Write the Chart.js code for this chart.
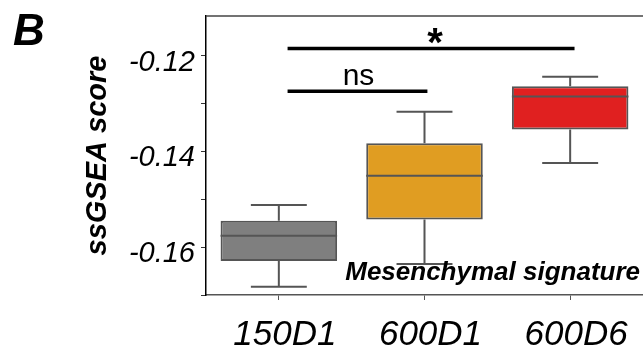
<!DOCTYPE html>
<html>
<head>
<meta charset="utf-8">
<script src="https://cdn.jsdelivr.net/npm/chart.js@4.4.0/dist/chart.umd.min.js"></script>
<style>
  html, body { margin: 0; padding: 0; background: #fff; }
  #wrap { width: 643px; height: 353px; position: relative; }
</style>
</head>
<body>
<div id="wrap"><canvas id="boxChart"></canvas></div>
<script>
// Données (ssGSEA score, signature mésenchymateuse)
const groups = ['150D1', '600D1', '600D6'];
const whiskerLow = [-0.1683, -0.1635, -0.1424];
const q1 = [-0.1629, -0.1542, -0.1354];
const medians = [-0.1576, -0.1451, -0.1285];
const q3 = [-0.1545, -0.1383, -0.1264];
const whiskerHigh = [-0.1512, -0.1317, -0.1244];
const boxColors = ['#7f7f7f', '#e09d22', '#e02020'];

const yTicks = [-0.17, -0.16, -0.15, -0.14, -0.13, -0.12];
const yLabelled = ['-0.16', '-0.14', '-0.12'];

// Barres de significativité : de / à (indice de catégorie), hauteur, texte
const sigFrom = [0.06, 0.06];
const sigTo = [2.03, 1.02];
const sigLevel = [-0.1185, -0.1274];
const sigText = ['*', 'ns'];

const panelLetter = 'B';
const signatureName = 'Mesenchymal signature';

// Moustaches, médianes, barres de test et annotations
const boxExtras = {
    id: 'boxExtras',
    afterDatasetsDraw(chart) {
        const ctx = chart.ctx;
        const x = chart.scales.x;
        const y = chart.scales.y;
        const meta = chart.getDatasetMeta(0);
        ctx.save();
        ctx.strokeStyle = '#555555';
        ctx.lineWidth = 2;
        meta.data.forEach((bar, i) => {
            const cx = bar.x;
            const half = bar.width / 2;
            const cap = bar.width * 0.24;
            const yMed = y.getPixelForValue(medians[i]);
            const yLo = y.getPixelForValue(whiskerLow[i]);
            const yHi = y.getPixelForValue(whiskerHigh[i]);
            const yQ1 = y.getPixelForValue(q1[i]);
            const yQ3 = y.getPixelForValue(q3[i]);
            ctx.beginPath();
            ctx.moveTo(cx - half, yMed); ctx.lineTo(cx + half, yMed);
            ctx.moveTo(cx, yQ3); ctx.lineTo(cx, yHi);
            ctx.moveTo(cx - cap, yHi); ctx.lineTo(cx + cap, yHi);
            ctx.moveTo(cx, yQ1); ctx.lineTo(cx, yLo);
            ctx.moveTo(cx - cap, yLo); ctx.lineTo(cx + cap, yLo);
            ctx.stroke();
        });

        ctx.strokeStyle = '#000';
        ctx.fillStyle = '#000';
        ctx.lineWidth = 3.5;
        ctx.textAlign = 'center';
        ctx.textBaseline = 'alphabetic';
        sigText.forEach((t, i) => {
            const x0 = x.getPixelForValue(sigFrom[i]);
            const x1 = x.getPixelForValue(sigTo[i]);
            const yy = y.getPixelForValue(sigLevel[i]);
            ctx.beginPath();
            ctx.moveTo(x0, yy); ctx.lineTo(x1, yy);
            ctx.stroke();
            if (t === '*') {
                ctx.font = 'bold 40px "Liberation Sans", Arial';
                ctx.fillText(t, (x0 + x1) / 2 + 4, yy + 7);
            } else {
                ctx.font = '30px "Liberation Sans", Arial';
                ctx.fillText(t, (x0 + x1) / 2 + 1, yy - 6);
            }
        });

        ctx.font = 'italic bold 26px "Liberation Sans", Arial';
        ctx.textAlign = 'right';
        ctx.textBaseline = 'middle';
        ctx.fillText(signatureName, chart.chartArea.right - 3, y.getPixelForValue(-0.1654));

        ctx.font = 'italic bold 44px "Liberation Sans", Arial';
        ctx.textAlign = 'left';
        ctx.textBaseline = 'alphabetic';
        ctx.fillText(panelLetter, 13, 45);

        // cadre supérieur
        ctx.strokeStyle = '#444';
        ctx.lineWidth = 1.5;
        ctx.beginPath();
        ctx.moveTo(chart.chartArea.left, chart.chartArea.top);
        ctx.lineTo(chart.chartArea.right, chart.chartArea.top);
        ctx.stroke();
        ctx.restore();
    }
};

new Chart(document.getElementById('boxChart'), {
    type: 'bar',
    data: {
        labels: groups,
        datasets: [{
            data: groups.map((g, i) => [q1[i], q3[i]]),
            backgroundColor: boxColors,
            borderColor: '#555555',
            borderWidth: 2,
            borderSkipped: false,
            barPercentage: 0.8,
            categoryPercentage: 1.0
        }]
    },
    options: {
        responsive: true,
        maintainAspectRatio: false,
        animation: false,
        events: [],
        layout: { padding: { top: 16, right: 0, left: 0, bottom: 0 } },
        plugins: {
            legend: { display: false },
            tooltip: { enabled: false }
        },
        scales: {
            x: {
                offset: true,
                border: { display: true, color: '#555555', width: 1.5 },
                grid: { display: true, drawOnChartArea: false, drawTicks: true, tickLength: 5, color: '#555555', offset: false },
                ticks: {
                    color: '#000',
                    padding: 14,
                    labelOffset: 6,
                    font: { family: '"Liberation Sans", Arial', size: 35, style: 'italic' }
                },
                afterFit(scale) {
                    scale.height = 58;
                    scale.paddingLeft = 0;
                    scale.paddingRight = 0;
                }
            },
            y: {
                min: -0.17,
                max: -0.1117,
                afterBuildTicks(scale) {
                    scale.ticks = yTicks.map(v => ({ value: v }));
                },
                border: { display: true, color: '#000', width: 1.5 },
                grid: { display: true, drawOnChartArea: false, drawTicks: true, tickLength: 5, color: '#333' },
                ticks: {
                    color: '#000',
                    padding: 6,
                    labelOffset: 7,
                    font: { family: '"Liberation Sans", Arial', size: 29, style: 'italic' },
                    callback(value) {
                        const s = value.toFixed(2);
                        return yLabelled.includes(s) ? s : '';
                    }
                },
                title: {
                    display: true,
                    text: 'ssGSEA score',
                    color: '#000',
                    font: { family: '"Liberation Sans", Arial', size: 29, style: 'italic', weight: 'bold' },
                    padding: { top: 81, bottom: 0 }
                },
                afterFit(scale) {
                    scale.width = 206;
                    scale.paddingTop = 0;
                    scale.paddingBottom = 0;
                }
            }
        }
    },
    plugins: [boxExtras]
});
</script>
</body>
</html>
